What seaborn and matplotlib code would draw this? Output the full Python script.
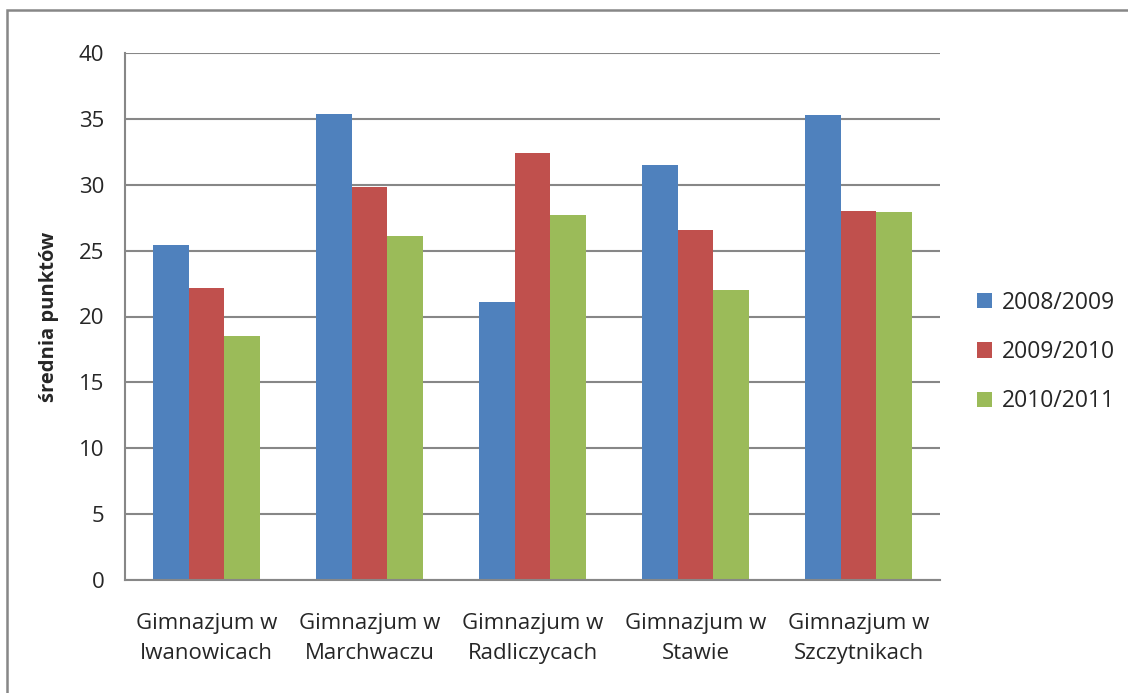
import pandas as pd
import seaborn as sns
import matplotlib.pyplot as plt
from matplotlib.patches import Rectangle

# data
schools = ['Gimnazjum w\nIwanowicach', 'Gimnazjum w\nMarchwaczu', 'Gimnazjum w\nRadliczycach',
           'Gimnazjum w\nStawie', 'Gimnazjum w\nSzczytnikach']
years = ['2008/2009', '2009/2010', '2010/2011']
v_2008 = [25.4, 35.4, 21.1, 31.5, 35.3]
v_2009 = [22.2, 29.8, 32.4, 26.6, 28.0]
v_2010 = [18.5, 26.1, 27.7, 22.0, 27.9]
colors = ['#4F81BD', '#C0504D', '#9BBB59']

df = pd.DataFrame({'szkola': schools * 3,
                   'rok': [y for y in years for _ in schools],
                   'wynik': v_2008 + v_2009 + v_2010})

sns.set_style('white')
plt.rcParams['font.family'] = ['Open Sans', 'DejaVu Sans']

fig = plt.figure(figsize=(11.28, 6.93), dpi=100)
ax = fig.add_axes([125/1128, 1-580/693, 815/1128, 527/693])

sns.barplot(data=df, x='szkola', y='wynik', hue='rok', palette=colors,
            width=0.66, saturation=1, ax=ax, legend=True, linewidth=0)

ax.set_ylim(0, 40)
ax.set_xlim(-0.5, 4.5)
ax.set_yticks(range(0, 41, 5))
ax.yaxis.grid(True, color='#878787', lw=1.5)
ax.set_axisbelow(True)
for s in ['top', 'right']:
    ax.spines[s].set_visible(False)
for s in ['left', 'bottom']:
    ax.spines[s].set_color('#878787')
    ax.spines[s].set_linewidth(1.5)

# x ticks at category boundaries, labels at centres
ax.set_xticks([i - 0.5 for i in range(6)])
ax.set_xticklabels([])
ax.set_xticks(range(5), minor=True)
ax.set_xticklabels(schools, minor=True, fontsize=16, linespacing=1.55)
ax.tick_params(axis='x', which='major', length=6, width=1.5, color='#878787', direction='out')
ax.tick_params(axis='x', which='minor', length=0, pad=24)
ax.tick_params(axis='y', length=6, width=1.5, color='#878787', direction='out', labelsize=16, pad=9)

ax.set_xlabel('')
ax.set_ylabel('średnia punktów', fontsize=14.5, fontweight='bold')
ax.yaxis.set_label_coords(-0.081, 0.5)

ax.legend(loc='center left', bbox_to_anchor=(977/1128, 1-352/693), bbox_transform=fig.transFigure,
          frameon=False, fontsize=16.5, handlelength=0.65, handleheight=0.65, handletextpad=0.45,
          labelspacing=1.1, borderpad=0, borderaxespad=0)

# outer chart border (cut off at right and bottom)
fig.patches.append(Rectangle((7/1128, -0.1), 1.2, 1.1 - 10.5/693, transform=fig.transFigure,
                             fill=False, edgecolor='#878787', lw=1.8))

fig.savefig('out.png', dpi=100)
